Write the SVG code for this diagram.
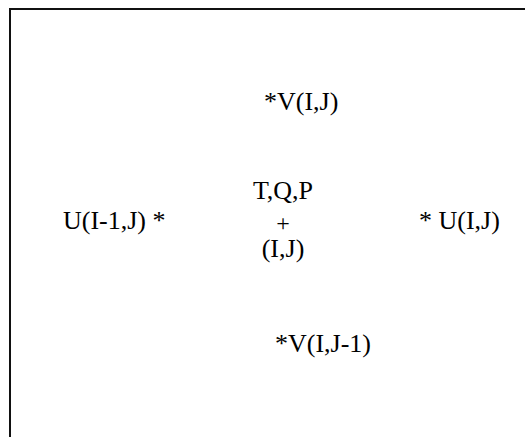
<svg xmlns="http://www.w3.org/2000/svg" width="525" height="437" viewBox="0 0 525 437">
  <style>
    .lbl { font-family: "Liberation Serif", "Times New Roman", serif; font-size: 26px; fill: #000; }
    .mark { font-size: 24px; }
    .frame { fill: none; stroke: #111; stroke-width: 2; }
  </style>
  <rect width="525" height="437" fill="#fff"/>
  <!-- grid cell outline (top and left edges) -->
  <g id="frame">
    <path class="frame" d="M10,437 V9 H525"/>
  </g>
  <g id="v-north"><text class="lbl" x="264" y="110">*V(I,J)</text></g>
  <g id="center">
    <text class="lbl" text-anchor="middle" x="283" y="199">T,Q,P</text>
    <text class="lbl mark" text-anchor="middle" x="283" y="231">+</text>
    <text class="lbl" text-anchor="middle" x="283" y="257">(I,J)</text>
  </g>
  <g id="u-west"><text class="lbl" x="63" y="229">U(I-1,J) *</text></g>
  <g id="u-east"><text class="lbl" x="419" y="229">* U(I,J)</text></g>
  <g id="v-south"><text class="lbl" x="275" y="352">*V(I,J-1)</text></g>
</svg>
